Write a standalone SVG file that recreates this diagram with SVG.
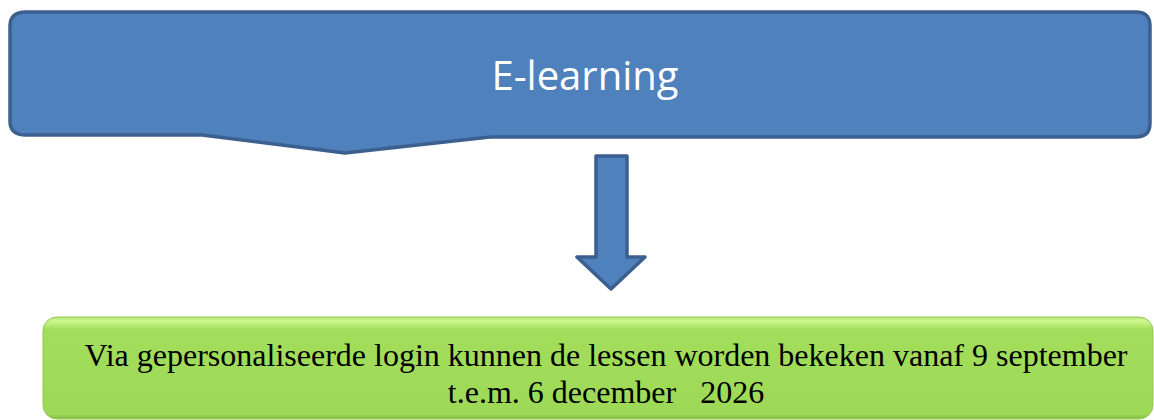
<svg xmlns="http://www.w3.org/2000/svg" width="1154" height="420" viewBox="0 0 1154 420">
<style>
.blue{fill:#4f81bd;stroke:#3b5f8e;stroke-width:3.5;stroke-linejoin:round}
.t1{font-family:"Open Sans","Liberation Sans",sans-serif;font-size:40px;fill:#fff;text-anchor:middle}
.t2{font-family:"Liberation Serif",serif;font-size:32px;fill:#000;text-anchor:middle}
</style>
<defs>
<linearGradient id="g" x1="0" y1="0" x2="0" y2="1">
<stop offset="0" stop-color="#b6e97a"/>
<stop offset="0.04" stop-color="#cdf891"/>
<stop offset="0.12" stop-color="#a3de5b"/>
<stop offset="0.95" stop-color="#9dd957"/>
<stop offset="1" stop-color="#86bd45"/>
</linearGradient>
</defs>
<g id="top">
<path class="blue" d="M26 12 H1136 Q1150 12 1150 26 V123 Q1150 137 1136 137 H490 L345 153 L202 135 H26 Q10 135 10 121 V26 Q10 12 26 12 Z"/>
<text class="t1" x="585" y="90">E-learning</text>
</g>
<g id="connectors">
<path class="blue" d="M596 156 H627 V257 H645 L611 289 L577 257 H596 Z"/>
</g>
<g id="bottom">
<rect x="43" y="317" width="1110" height="102" rx="14" fill="url(#g)" stroke="#93c753" stroke-width="1"/>
<text class="t2" x="606" y="366">Via gepersonaliseerde login kunnen de lessen worden bekeken vanaf 9 september</text>
<text class="t2" x="606" y="403" xml:space="preserve">t.e.m. 6 december   2026</text>
</g>
</svg>
